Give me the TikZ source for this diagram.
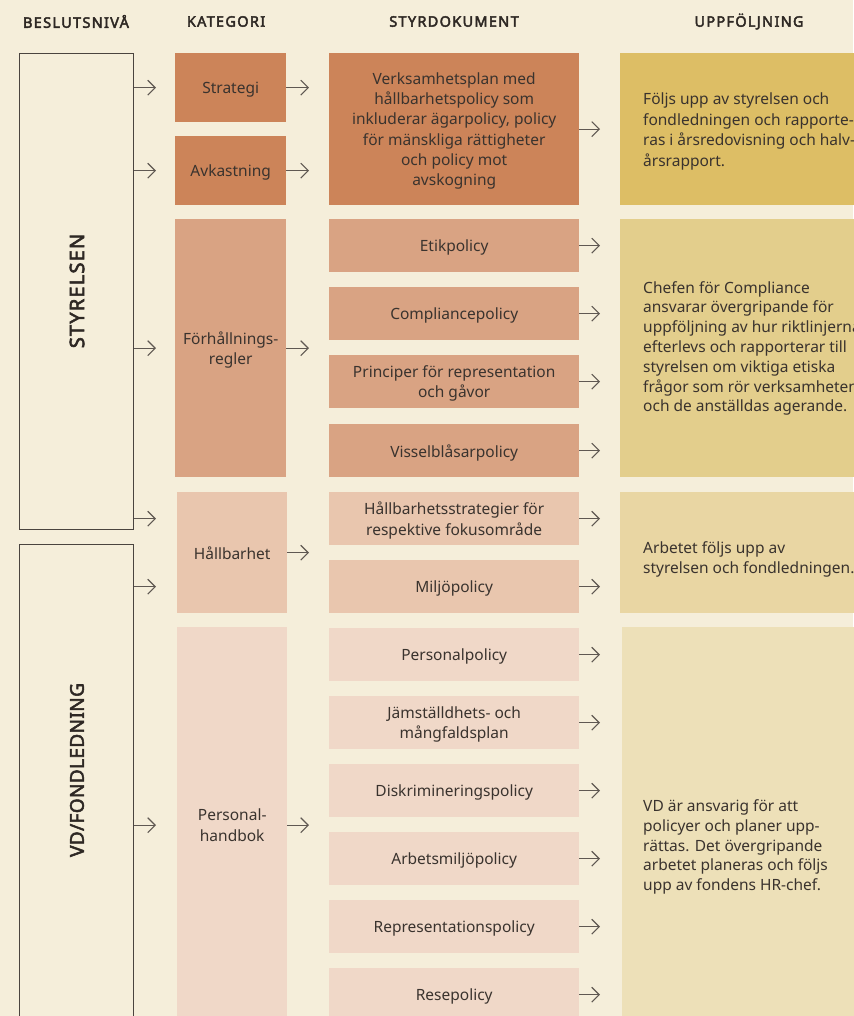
\documentclass[tikz,border=0pt]{standalone}
\usepackage{fontspec}
\setmainfont{Noto Sans}
\newfontfamily\hdrfont{Noto Sans}[FakeBold=3,LetterSpace=9]
\newfontfamily\vlabfontA{Noto Sans}[FakeBold=2.8,LetterSpace=6]
\newfontfamily\vlabfontB{Noto Sans}[FakeBold=2.8,LetterSpace=2]
\usetikzlibrary{arrows.meta}
\definecolor{bg}{HTML}{F5EEDA}
\definecolor{cA}{HTML}{CC8459}
\definecolor{cB}{HTML}{D9A383}
\definecolor{cC}{HTML}{E9C6AE}
\definecolor{cD}{HTML}{F0D8C8}
\definecolor{uA}{HTML}{DDBE65}
\definecolor{uB}{HTML}{E3CE8C}
\definecolor{uC}{HTML}{E9D6A3}
\definecolor{uD}{HTML}{EDE0B8}
\definecolor{arrc}{HTML}{5F5852}
\definecolor{txt}{HTML}{3A332E}
\definecolor{hdrc}{HTML}{2E2824}
\definecolor{framec}{HTML}{4A443F}
\begin{document}
\begin{tikzpicture}[x=1pt,y=-1pt,
  box/.style={anchor=north west, inner sep=0pt, align=center, text=txt, text depth=0pt, font=\fontsize{15.5}{20.3}\selectfont},
  cat/.style={box, minimum width=111pt},
  doc/.style={box, minimum width=250pt, minimum height=53pt},
  upf/.style={anchor=north west, inner sep=0pt},
  utext/.style={anchor=west, inner sep=0pt, align=left, text=txt, font=\fontsize{15.5}{19.8}\selectfont},
  frame/.style={anchor=north west, draw=framec, line width=1.3pt, inner sep=0pt, minimum width=114pt},
  arr/.style={draw=arrc, line width=1.1pt, -{Straight Barb[length=7.5pt,width=15pt,line width=1.1pt]}},
  hdr/.style={inner sep=0pt, text=hdrc, font=\hdrfont\fontsize{14.5}{16}\selectfont},
  vlabA/.style={inner sep=0pt, rotate=90, text=hdrc, font=\vlabfontA\fontsize{20}{22}\selectfont},
  vlabB/.style={inner sep=0pt, rotate=90, text=hdrc, font=\vlabfontB\fontsize{19}{22}\selectfont},
]
\useasboundingbox (0,0) rectangle (853,1016);
\fill[bg] (0,0) rectangle (853,1016);

% headers
\node[hdr] (h1) at (76,21.5) {BESLUTSNIVÅ};
\node[hdr] (h2) at (226,21.5) {KATEGORI};
\node[hdr] (h3) at (454,21.5) {STYRDOKUMENT};
\node[hdr] (h4) at (749,21.5) {UPPFÖLJNING};

% decision levels
\node[frame, minimum height=476pt] (styr) at (19,53) {};
\node[frame, minimum height=500pt] (vd) at (19,544) {};
\node[vlabA] (styrlab) at (77,291) {STYRELSEN};
\node[vlabB] (vdlab) at (77,770) {VD/FONDLEDNING};

% categories
\node[cat, fill=cA, minimum height=69pt] (strategi) at (175,53) {Strategi};
\node[cat, fill=cA, minimum height=69pt] (avk) at (175,136) {Avkastning};
\node[cat, fill=cB, minimum height=258pt] (forh) at (175,219) {Förhållnings-\\regler};
\node[cat, fill=cC, minimum width=110pt, minimum height=121pt] (hall) at (177,492) {Hållbarhet};
\node[cat, fill=cD, minimum width=110pt, minimum height=396pt] (pers) at (177,627) {Personal-\\handbok};

% documents
\node[doc, fill=cA, minimum height=152pt] (verks) at (329,53) {Verksamhetsplan med\\hållbarhetspolicy som\\inkluderar ägarpolicy, policy\\för mänskliga rättigheter\\och policy mot\\avskogning};
\node[doc, fill=cB] (etik) at (329,219) {Etikpolicy};
\node[doc, fill=cB] (compl) at (329,287) {Compliancepolicy};
\node[doc, fill=cB] (princ) at (329,355) {Principer för representation\\och gåvor};
\node[doc, fill=cB] (vissel) at (329,424) {Visselblåsarpolicy};
\node[doc, fill=cC] (hstrat) at (329,492) {Hållbarhetsstrategier för\\respektive fokusområde};
\node[doc, fill=cC] (miljo) at (329,560) {Miljöpolicy};
\node[doc, fill=cD] (perspol) at (329,628) {Personalpolicy};
\node[doc, fill=cD] (jams) at (329,696) {Jämställdhets- och\\mångfaldsplan};
\node[doc, fill=cD] (disk) at (329,764) {Diskrimineringspolicy};
\node[doc, fill=cD] (arbm) at (329,832) {Arbetsmiljöpolicy};
\node[doc, fill=cD] (repr) at (329,900) {Representationspolicy};
\node[doc, fill=cD] (rese) at (329,968) {Resepolicy};

% follow-up boxes
\node[upf, fill=uA, minimum width=260pt, minimum height=152pt] (uA) at (620,53) {};
\node[upf, fill=uB, minimum width=260pt, minimum height=258pt] (uB) at (620,219) {};
\node[upf, fill=uC, minimum width=260pt, minimum height=121pt] (uC) at (620,492) {};
\node[upf, fill=uD, minimum width=260pt, minimum height=420pt] (uD) at (622,627) {};

\node[utext, font=\fontsize{15.5}{20.5}\selectfont] (tA) at (643,131.5) {Följs upp av styrelsen och\\fondledningen och rapporte-\\ras i årsredovisning och halv-\\årsrapport.};
\node[utext] (tB) at (643,348.5) {Chefen för Compliance\\ansvarar övergripande för\\uppföljning av hur riktlinjerna\\efterlevs och rapporterar till\\styrelsen om viktiga etiska\\frågor som rör verksamheten\\och de anställdas agerande.};
\node[utext] (tC) at (643,559.5) {Arbetet följs upp av\\styrelsen och fondledningen.};
\node[utext] (tD) at (643,847) {VD är ansvarig för att\\policyer och planer upp-\\rättas. Det övergripande\\arbetet planeras och följs\\upp av fondens HR-chef.};

% arrows: level -> category
\draw[arr, shorten >=19pt] (styr.east |- strategi.west) -- (strategi.west);
\draw[arr, shorten >=19pt] (styr.east |- avk.west) -- (avk.west);
\draw[arr, shorten >=19pt] (styr.east |- forh.west) -- (forh.west);
\draw[arr, shorten >=21pt] (styr.east |- hstrat.west) -- (hall.west |- hstrat.west);
\draw[arr, shorten >=21pt] (vd.east |- miljo.west) -- (hall.west |- miljo.west);
\draw[arr, shorten >=21pt] (vd.east |- pers.west) -- (pers.west);

% arrows: category -> documents
\draw[arr, shorten >=20pt] (strategi.east) -- (strategi.east -| verks.west);
\draw[arr, shorten >=20pt] (avk.east) -- (avk.east -| verks.west);
\draw[arr, shorten >=20pt] (forh.east) -- (forh.east -| etik.west);
\draw[arr, shorten >=20pt] (hall.east) -- (hall.east -| hstrat.west);
\draw[arr, shorten >=20pt] (pers.east) -- (pers.east -| disk.west);

% arrows: documents -> follow-up
\draw[arr, shorten >=20pt] (verks.east) -- (verks.east -| uA.west);
\foreach \n in {etik,compl,princ,vissel}
  \draw[arr, shorten >=20pt] (\n.east) -- (\n.east -| uB.west);
\foreach \n in {hstrat,miljo}
  \draw[arr, shorten >=20pt] (\n.east) -- (\n.east -| uC.west);
\foreach \n in {perspol,jams,disk,arbm,repr,rese}
  \draw[arr, shorten >=22pt] (\n.east) -- (\n.east -| uD.west);
\end{tikzpicture}
\end{document}
